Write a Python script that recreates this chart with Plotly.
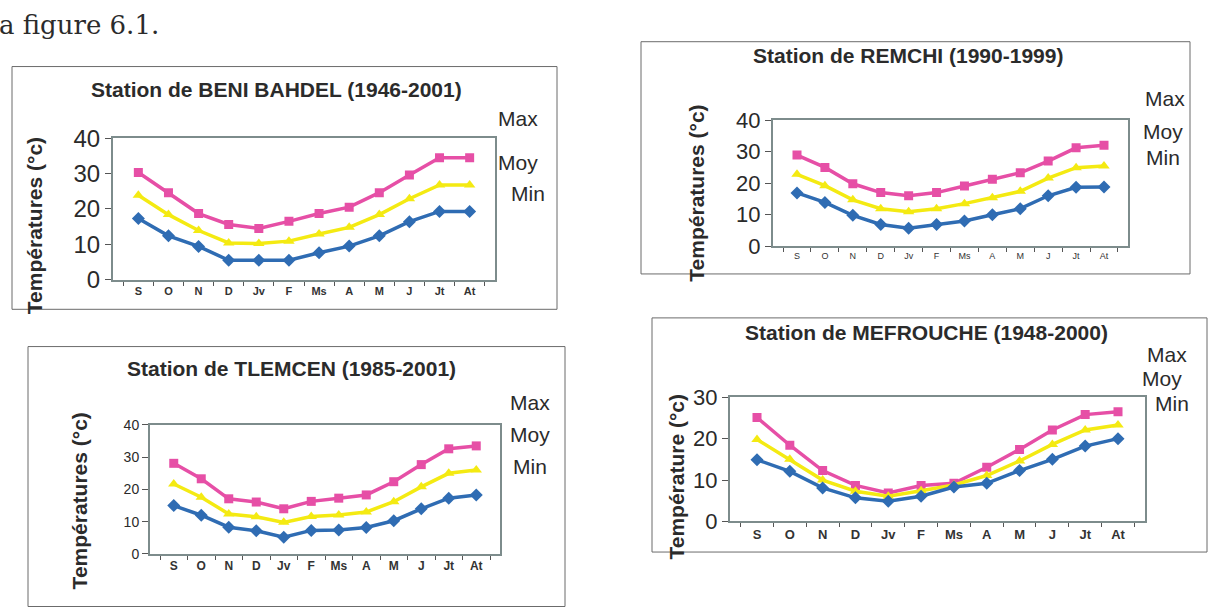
import plotly.graph_objects as go

W, H = 1223, 609

months = ["S", "O", "N", "D", "Jv", "F", "Ms", "A", "M", "J", "Jt", "At"]

# Station de BENI BAHDEL (1946-2001)
bb_max = [30.3, 24.6, 18.7, 15.6, 14.5, 16.5, 18.7, 20.5, 24.6, 29.6, 34.5, 34.5]
bb_moy = [23.9, 18.4, 13.9, 10.4, 10.2, 10.9, 12.9, 14.8, 18.4, 22.9, 26.8, 26.8]
bb_min = [17.3, 12.4, 9.4, 5.5, 5.5, 5.5, 7.6, 9.5, 12.4, 16.4, 19.3, 19.3]

# Station de REMCHI (1990-1999)
re_max = [28.9, 25.0, 19.8, 17.0, 16.0, 17.0, 19.1, 21.2, 23.3, 27.0, 31.2, 32.0]
re_moy = [22.8, 19.2, 14.7, 11.9, 10.9, 11.9, 13.5, 15.4, 17.4, 21.6, 24.9, 25.4]
re_min = [16.9, 13.9, 9.8, 6.9, 5.7, 6.9, 8.0, 10.0, 11.9, 16.0, 18.7, 18.8]

# Station de TLEMCEN (1985-2001)
tl_max = [28.1, 23.3, 17.1, 16.1, 14.0, 16.3, 17.3, 18.3, 22.4, 27.7, 32.6, 33.5]
tl_moy = [21.7, 17.6, 12.4, 11.5, 9.8, 11.6, 12.1, 13.0, 16.2, 20.8, 25.0, 26.0]
tl_min = [15.0, 12.0, 8.3, 7.2, 5.2, 7.3, 7.4, 8.2, 10.3, 14.0, 17.3, 18.3]

# Station de MEFROUCHE (1948-2000)
me_max = [25.1, 18.4, 12.3, 8.7, 6.9, 8.7, 9.2, 13.1, 17.4, 22.1, 25.8, 26.5]
me_moy = [19.8, 15.0, 10.0, 7.3, 6.1, 7.4, 8.8, 11.1, 14.6, 18.6, 22.1, 23.3]
me_min = [14.9, 12.1, 8.1, 5.7, 4.9, 6.1, 8.3, 9.2, 12.3, 15.0, 18.2, 20.0]

series_names = ["Max", "Moy", "Min"]
PINK, YELLOW, BLUE = "#E64FA6", "#F4EA12", "#2F6CB3"
FONT = "Liberation Sans, Arial, sans-serif"


def X(px):
    return px / W


def Y(py):
    return 1 - py / H


charts = [
    dict(title="Station de BENI BAHDEL (1946-2001)", data=(bb_max, bb_moy, bb_min),
         plot=(113, 495, 130, 278), ymax=40, ytick=24, xtick=11, xbold=True,
         box=(12, 557, 55, 309), tpos=(276, 79), ytitle="Températures (°c)", ytpos=(34, 222),
         legend=[(518, 109), (518, 155), (528, 188)]),
    dict(title="Station de REMCHI (1990-1999)", data=(re_max, re_moy, re_min),
         plot=(773, 1128, 111, 243), ymax=40, ytick=22, xtick=9, xbold=False,
         box=(641, 1190, 29, 272), tpos=(908, 43), ytitle="Températures (°c)", ytpos=(697, 188),
         legend=[(1165, 88), (1163, 123), (1163, 150)]),
    dict(title="Station de TLEMCEN (1985-2001)", data=(tl_max, tl_moy, tl_min),
         plot=(150, 500, 430, 565), ymax=40, ytick=14, xtick=12, xbold=True,
         box=(28, 565, 348, 620), tpos=(291, 371), ytitle="Températures (°c)", ytpos=(79, 510),
         legend=[(530, 406), (530, 440), (530, 473)]),
    dict(title="Station de MEFROUCHE (1948-2000)", data=(me_max, me_moy, me_min),
         plot=(730, 1145, 401, 531), ymax=30, ytick=22, xtick=13, xbold=True,
         box=(652, 1207, 318, 563), tpos=(926, 333), ytitle="Température (°c)", ytpos=(677, 484),
         legend=[(1167, 356), (1162, 381), (1172, 408)]),
]

fig = go.Figure()
shapes = []
annotations = []

styles = [
    dict(color=PINK, symbol="square", size=9),
    dict(color=YELLOW, symbol="triangle-up", size=10),
    dict(color=BLUE, symbol="diamond", size=10),
]

for i, c in enumerate(charts, start=1):
    suffix = "" if i == 1 else str(i)
    x0, x1, y0, y1 = c["plot"]
    for name, vals, st in zip(series_names, c["data"], styles):
        fig.add_trace(go.Scatter(
            x=months, y=vals, name=name, mode="lines+markers",
            line=dict(color=st["color"], width=3.5),
            marker=dict(color=st["color"], symbol=st["symbol"], size=st["size"]),
            xaxis="x" + suffix, yaxis="y" + suffix, showlegend=False,
        ))
    xfont = dict(family=FONT, size=c["xtick"], color="#333333")
    if c["xbold"]:
        xfont["weight"] = "bold"
    fig.update_layout(**{
        "xaxis" + suffix: dict(
            domain=[X(x0), X(x1)], anchor="y" + suffix, type="category",
            categoryorder="array", categoryarray=months,
            showline=True, mirror=True, linecolor="#7d8c8c", linewidth=2,
            ticks="outside", tickson="boundaries", ticklen=4, tickcolor="#555555",
            showgrid=False, zeroline=False, tickfont=xfont, fixedrange=True,
        ),
        "yaxis" + suffix: dict(
            domain=[Y(y1), Y(y0)], anchor="x" + suffix, range=[0, c["ymax"]],
            dtick=10, tick0=0, showline=True, mirror=True, linecolor="#7d8c8c",
            linewidth=2, ticks="outside", ticklen=6, tickcolor="#555555",
            showgrid=False, zeroline=False,
            tickfont=dict(family=FONT, size=c["ytick"], color="#2a2a2a"), fixedrange=True,
        ),
    })
    bx0, bx1, by0, by1 = c["box"]
    shapes.append(dict(type="rect", xref="paper", yref="paper",
                       x0=X(bx0), x1=X(bx1), y0=Y(by1), y1=Y(by0),
                       line=dict(color="#6b6b6b", width=1), layer="below"))
    annotations.append(dict(text=c["title"], x=X(c["tpos"][0]), y=Y(c["tpos"][1]),
                            xref="paper", yref="paper", showarrow=False,
                            xanchor="center", yanchor="middle",
                            font=dict(family=FONT, size=21, color="#2b2b2b", weight="bold")))
    annotations.append(dict(text=c["ytitle"], x=X(c["ytpos"][0]), y=Y(c["ytpos"][1]),
                            xref="paper", yref="paper", showarrow=False, textangle=-90,
                            xanchor="center", yanchor="middle",
                            font=dict(family=FONT, size=21, color="#2b2b2b", weight="bold")))
    for name, (lx, ly) in zip(series_names, c["legend"]):
        annotations.append(dict(text=name, x=X(lx), y=Y(ly), xref="paper", yref="paper",
                                showarrow=False, xanchor="center", yanchor="middle",
                                font=dict(family=FONT, size=21, color="#2b2b2b")))

annotations.append(dict(text="a figure 6.1.", x=X(-3), y=Y(12), xref="paper", yref="paper",
                        showarrow=False, xanchor="left", yanchor="middle",
                        font=dict(family="DejaVu Serif, Liberation Serif, serif", size=26,
                                  color="#2b2b2b")))

fig.update_layout(
    width=W, height=H, margin=dict(l=0, r=0, t=0, b=0),
    paper_bgcolor="white", plot_bgcolor="white",
    shapes=shapes, annotations=annotations, showlegend=False,
)

fig.write_html("out.html", config={"displayModeBar": False})
